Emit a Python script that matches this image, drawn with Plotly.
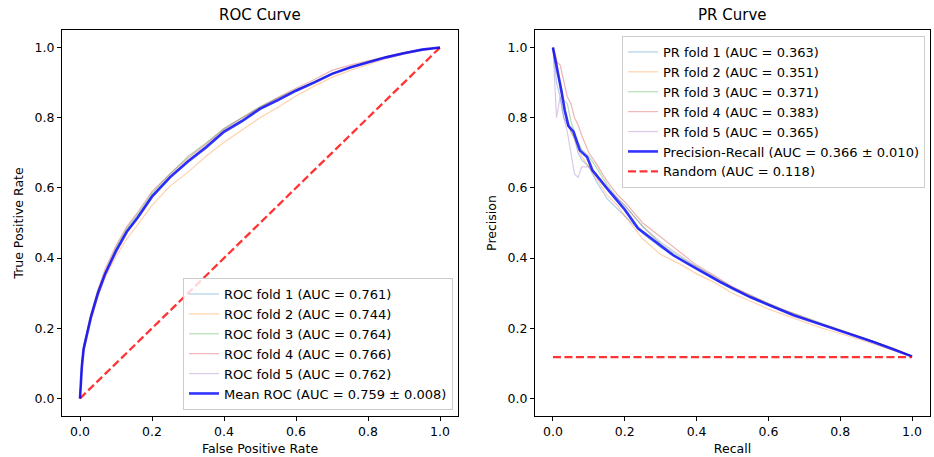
import plotly.graph_objects as go

# ---------------- ROC data ----------------
roc_fpr = [0, 0.005, 0.01, 0.02, 0.03, 0.05, 0.07, 0.1, 0.13, 0.16, 0.2, 0.25, 0.3, 0.35,
           0.4, 0.45, 0.5, 0.55, 0.6, 0.65, 0.7, 0.75, 0.8, 0.85, 0.9, 0.95, 1.0]
roc_fold1 = [0, 0.10, 0.15, 0.20, 0.24, 0.31, 0.36, 0.425, 0.48, 0.52, 0.58, 0.635, 0.68, 0.72,
             0.765, 0.795, 0.83, 0.855, 0.88, 0.902, 0.926, 0.944, 0.959, 0.973, 0.985, 0.994, 1.0]
roc_fold2 = [0, 0.08, 0.13, 0.18, 0.22, 0.29, 0.345, 0.405, 0.455, 0.495, 0.55, 0.605, 0.645, 0.69,
             0.73, 0.765, 0.80, 0.83, 0.862, 0.89, 0.915, 0.935, 0.952, 0.968, 0.981, 0.992, 1.0]
roc_fold3 = [0, 0.09, 0.14, 0.19, 0.235, 0.305, 0.36, 0.43, 0.485, 0.525, 0.585, 0.64, 0.69, 0.728,
             0.77, 0.80, 0.832, 0.856, 0.88, 0.903, 0.926, 0.944, 0.96, 0.973, 0.985, 0.994, 1.0]
roc_fold4 = [0, 0.10, 0.15, 0.20, 0.24, 0.31, 0.37, 0.435, 0.49, 0.53, 0.59, 0.64, 0.685, 0.725,
             0.768, 0.80, 0.83, 0.858, 0.884, 0.908, 0.935, 0.95, 0.962, 0.975, 0.986, 0.995, 1.0]
roc_fold5 = [0, 0.09, 0.14, 0.19, 0.23, 0.30, 0.355, 0.42, 0.475, 0.515, 0.575, 0.632, 0.677, 0.718,
             0.762, 0.792, 0.826, 0.852, 0.878, 0.9, 0.924, 0.942, 0.958, 0.972, 0.984, 0.994, 1.0]
roc_mean = [0, 0.09, 0.14, 0.19, 0.23, 0.30, 0.355, 0.42, 0.475, 0.515, 0.575, 0.63, 0.675, 0.715,
            0.76, 0.79, 0.825, 0.85, 0.877, 0.9, 0.925, 0.943, 0.958, 0.972, 0.984, 0.994, 1.0]
roc_labels = ["ROC fold 1 (AUC = 0.761)", "ROC fold 2 (AUC = 0.744)", "ROC fold 3 (AUC = 0.764)",
              "ROC fold 4 (AUC = 0.766)", "ROC fold 5 (AUC = 0.762)"]
roc_mean_label = "Mean ROC (AUC = 0.759 ± 0.008)"
chance_x = [0, 1]
chance_y = [0, 1]

# ---------------- PR data ----------------
pr_recall = [0, 0.01, 0.02, 0.03, 0.04, 0.05, 0.06, 0.07, 0.08, 0.1, 0.12, 0.15, 0.18, 0.2, 0.25,
             0.3, 0.35, 0.4, 0.45, 0.5, 0.55, 0.6, 0.65, 0.7, 0.75, 0.8, 0.85, 0.9, 0.95, 1.0]
pr_fold1 = [1.0, 0.90, 0.86, 0.80, 0.78, 0.76, 0.74, 0.70, 0.68, 0.66, 0.62, 0.57, 0.54, 0.52, 0.47,
            0.43, 0.40, 0.37, 0.34, 0.31, 0.288, 0.265, 0.245, 0.228, 0.21, 0.193, 0.177, 0.16, 0.14, 0.12]
pr_fold2 = [1.0, 0.97, 0.88, 0.84, 0.80, 0.76, 0.74, 0.71, 0.69, 0.66, 0.63, 0.58, 0.55, 0.52, 0.455,
            0.41, 0.385, 0.355, 0.33, 0.30, 0.277, 0.255, 0.236, 0.218, 0.20, 0.185, 0.17, 0.153, 0.136, 0.118]
pr_fold3 = [1.0, 0.93, 0.90, 0.85, 0.84, 0.79, 0.76, 0.73, 0.71, 0.69, 0.66, 0.61, 0.57, 0.55, 0.49,
            0.44, 0.405, 0.375, 0.345, 0.316, 0.293, 0.272, 0.25, 0.232, 0.214, 0.196, 0.179, 0.161, 0.142, 0.12]
pr_fold4 = [1.0, 0.96, 0.95, 0.90, 0.86, 0.84, 0.80, 0.78, 0.75, 0.70, 0.67, 0.62, 0.58, 0.56, 0.50,
            0.46, 0.42, 0.38, 0.35, 0.318, 0.295, 0.27, 0.25, 0.23, 0.212, 0.195, 0.178, 0.16, 0.142, 0.12]
pr_fold5 = [1.0, 0.80, 0.86, 0.80, 0.76, 0.70, 0.64, 0.63, 0.66, 0.66, 0.64, 0.60, 0.57, 0.55, 0.49,
            0.445, 0.41, 0.375, 0.345, 0.315, 0.29, 0.268, 0.247, 0.228, 0.21, 0.194, 0.178, 0.16, 0.141, 0.12]
pr_mean_recall = [0, 0.008, 0.015, 0.024, 0.033, 0.043, 0.057, 0.066, 0.075, 0.095, 0.11, 0.155, 0.2,
                  0.237, 0.279, 0.335, 0.391, 0.465, 0.549, 0.67, 0.781, 0.892, 1.0]
pr_mean = [1.0, 0.96, 0.926, 0.874, 0.82, 0.777, 0.76, 0.735, 0.707, 0.688, 0.65, 0.593, 0.538,
           0.485, 0.451, 0.408, 0.375, 0.332, 0.289, 0.237, 0.199, 0.161, 0.12]
pr_labels = ["PR fold 1 (AUC = 0.363)", "PR fold 2 (AUC = 0.351)", "PR fold 3 (AUC = 0.371)",
             "PR fold 4 (AUC = 0.383)", "PR fold 5 (AUC = 0.365)"]
pr_mean_label = "Precision-Recall (AUC = 0.366 ± 0.010)"
random_label = "Random (AUC = 0.118)"
random_level = 0.118

fold_colors = ["rgba(31,119,180,0.35)", "rgba(255,127,14,0.35)", "rgba(44,160,44,0.35)",
               "rgba(214,39,40,0.35)", "rgba(148,103,189,0.35)"]
mean_color = "rgba(0,0,255,0.8)"
red_color = "rgba(255,0,0,0.8)"
DASH = "8px,3.5px"

FONT = "DejaVu Sans"
fig = go.Figure()

roc_folds = [roc_fold1, roc_fold2, roc_fold3, roc_fold4, roc_fold5]
for i, ys in enumerate(roc_folds):
    fig.add_trace(go.Scatter(x=roc_fpr, y=ys, mode="lines", name=roc_labels[i],
                             line=dict(color=fold_colors[i], width=1.2),
                             xaxis="x", yaxis="y", legend="legend"))
fig.add_trace(go.Scatter(x=chance_x, y=chance_y, mode="lines", showlegend=False,
                         line=dict(color=red_color, width=2.3, dash=DASH),
                         xaxis="x", yaxis="y"))
fig.add_trace(go.Scatter(x=roc_fpr, y=roc_mean, mode="lines", name=roc_mean_label,
                         line=dict(color=mean_color, width=2.6),
                         xaxis="x", yaxis="y", legend="legend"))

pr_folds = [pr_fold1, pr_fold2, pr_fold3, pr_fold4, pr_fold5]
for i, ys in enumerate(pr_folds):
    fig.add_trace(go.Scatter(x=pr_recall, y=ys, mode="lines", name=pr_labels[i],
                             line=dict(color=fold_colors[i], width=1.2),
                             xaxis="x2", yaxis="y2", legend="legend2"))
fig.add_trace(go.Scatter(x=pr_mean_recall, y=pr_mean, mode="lines", name=pr_mean_label,
                         line=dict(color=mean_color, width=2.6),
                         xaxis="x2", yaxis="y2", legend="legend2"))
fig.add_trace(go.Scatter(x=[0, 1], y=[random_level, random_level], mode="lines", name=random_label,
                         line=dict(color=red_color, width=2.3, dash=DASH),
                         xaxis="x2", yaxis="y2", legend="legend2"))

axis_common = dict(showline=True, linecolor="black", linewidth=1, mirror=True,
                   ticks="outside", ticklen=4, tickcolor="black", showgrid=False,
                   zeroline=False, tickfont=dict(family=FONT, size=12.5, color="black"),
                   tickvals=[0, 0.2, 0.4, 0.6, 0.8, 1.0],
                   ticktext=["0.0", "0.2", "0.4", "0.6", "0.8", "1.0"])

left_dom = [0, 396 / 868]
right_dom = [473 / 868, 1]

fig.update_layout(
    width=934, height=457,
    margin=dict(l=62, r=4, t=30, b=41),
    plot_bgcolor="white", paper_bgcolor="white",
    font=dict(family=FONT, size=12.5, color="black"),
    xaxis=dict(domain=left_dom, range=[-0.05, 1.05], anchor="y",
               title=dict(text="False Positive Rate", font=dict(size=12.5), standoff=6), **axis_common),
    yaxis=dict(domain=[0, 1], range=[-0.05, 1.05], anchor="x",
               title=dict(text="True Positive Rate", font=dict(size=12.5), standoff=8), **axis_common),
    xaxis2=dict(domain=right_dom, range=[-0.05, 1.05], anchor="y2",
                title=dict(text="Recall", font=dict(size=12.5), standoff=6), **axis_common),
    yaxis2=dict(domain=[0, 1], range=[-0.05, 1.05], anchor="x2",
                title=dict(text="Precision", font=dict(size=12.5), standoff=8), **axis_common),
    legend=dict(x=(453 - 62) / 868, y=0.0155, xanchor="right", yanchor="bottom",
                bgcolor="rgba(255,255,255,0.8)", bordercolor="#cccccc", borderwidth=1,
                font=dict(family=FONT, size=13), tracegroupgap=0, itemwidth=30),
    legend2=dict(x=(925 - 62) / 868, y=0.9845, xanchor="right", yanchor="top",
                 bgcolor="rgba(255,255,255,0.8)", bordercolor="#cccccc", borderwidth=1,
                 font=dict(family=FONT, size=13), tracegroupgap=0, itemwidth=30),
    annotations=[
        dict(text="ROC Curve", x=(left_dom[0] + left_dom[1]) / 2, y=1, xref="paper", yref="paper",
             xanchor="center", yanchor="bottom", yshift=4, showarrow=False,
             font=dict(family=FONT, size=15)),
        dict(text="PR Curve", x=(right_dom[0] + right_dom[1]) / 2, y=1, xref="paper", yref="paper",
             xanchor="center", yanchor="bottom", yshift=4, showarrow=False,
             font=dict(family=FONT, size=15)),
    ],
)

fig.write_html("out.html")
